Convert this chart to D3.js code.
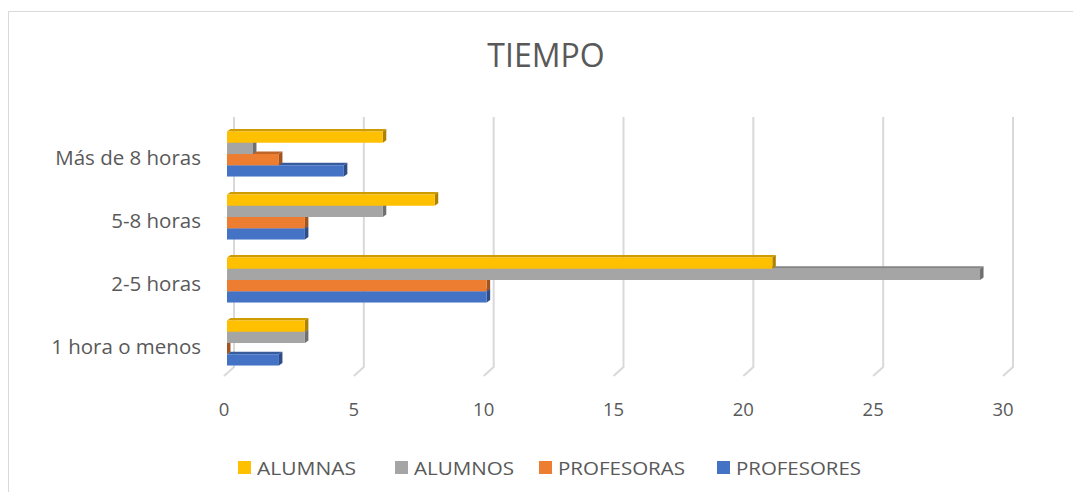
<!DOCTYPE html>
<html>
<head>
<meta charset="utf-8">
<script src="https://cdn.jsdelivr.net/npm/d3@7"></script>
<style>
  html, body { margin: 0; padding: 0; background: #fff; }
  svg { display: block; font-family: "Open Sans", sans-serif; }
</style>
</head>
<body>
<svg id="chart" width="1073" height="492"></svg>
<script>
// ---- data ----
const title = "TIEMPO";
const categories = ["Más de 8 horas", "5-8 horas", "2-5 horas", "1 hora o menos"];
const seriesNames = ["ALUMNAS", "ALUMNOS", "PROFESORAS", "PROFESORES"];
const alumnas    = [6, 8, 21, 3];
const alumnos    = [1, 6, 29, 3];
const profesoras = [2, 3, 10, 0];
const profesores = [4.5, 3, 10, 2];
const xTicks = [0, 5, 10, 15, 20, 25, 30];
const seriesColors = ["#FFC000", "#A5A5A5", "#ED7D31", "#4472C4"];

const seriesValues = [alumnas, alumnos, profesoras, profesores];

// ---- layout ----
const svg = d3.select("#chart");
const textColor = "#595959";
const gridColor = "#D9D9D9";

// back-wall plane
const x = d3.scaleLinear().domain([0, 30]).range([234, 1013]);
const y = d3.scaleBand().domain(categories).range([117, 369]).paddingInner(0.285).paddingOuter(0.1425);
const ySub = d3.scaleBand().domain(seriesNames).range([0, y.bandwidth()]);

// 3D offsets
const floorDX = -10, floorDY = 9;   // floor depth (back -> front)
const barDX = -7, barDY = 5.5;      // bars plane relative to back wall
const depthX = 3.5, depthY = -2.5;  // bar extrusion

// border
svg.append("rect").attr("x", 8.5).attr("y", 11.5).attr("width", 1080).attr("height", 500)
  .attr("fill", "none").attr("stroke", "#D9D9D9").attr("stroke-width", 1);

// title
svg.append("text").attr("x", 546).attr("y", 67).attr("text-anchor", "middle")
  .attr("font-size", 32).attr("fill", textColor).text(title);

// gridlines (back wall vertical + floor slant)
const gTop = y.range()[0], gBot = y.range()[1] - 2;
svg.append("g").selectAll("path").data(xTicks).join("path")
  .attr("d", d => `M${x(d)},${gTop}V${gBot}l${floorDX},${floorDY}`)
  .attr("fill", "none").attr("stroke", gridColor).attr("stroke-width", 2);

// x tick labels (at floor front edge)
svg.append("g").selectAll("text").data(xTicks).join("text")
  .attr("x", d => x(d) + floorDX).attr("y", 416)
  .attr("text-anchor", "middle").attr("font-size", 18.5).attr("fill", textColor)
  .text(d => d);

// category labels
svg.append("g").selectAll("text").data(categories).join("text")
  .attr("x", 201).attr("y", d => y(d) + y.bandwidth() / 2 + 16.5)
  .attr("text-anchor", "end").attr("font-size", 20.5).attr("fill", textColor)
  .text(d => d);

// bars: draw bottom series first so upper bars cover their top faces
const x0 = x(0) + barDX;
const bars = [];
categories.forEach((c, ci) => {
  seriesNames.forEach((s, si) => {
    bars.push({ cat: c, series: s, si, value: seriesValues[si][ci] });
  });
});
const barOrder = bars.slice().sort((a, b) => b.si - a.si);

const gBars = svg.append("g");
barOrder.forEach(b => {
  const col = d3.color(seriesColors[b.si]);
  const top = y(b.cat) + ySub(b.series) + barDY;
  const h = ySub.bandwidth();
  const x1 = x(b.value) + barDX;
  const w = x1 - x0;
  const g = gBars.append("g");
  // top face
  g.append("path")
    .attr("d", `M${x0},${top}L${x0 + depthX},${top + depthY}L${x1 + depthX},${top + depthY}L${x1},${top}Z`)
    .attr("fill", col.darker(0.6));
  // side face
  g.append("path")
    .attr("d", `M${x1},${top}L${x1 + depthX},${top + depthY}L${x1 + depthX},${top + h + depthY}L${x1},${top + h}Z`)
    .attr("fill", col.darker(1.1));
  // front face
  g.append("rect").attr("x", x0).attr("y", top).attr("width", Math.max(0, w)).attr("height", h)
    .attr("fill", col);
});

// legend
const legendX = [238, 395, 539, 717];
const legendW = [99, 100, 127, 125];
const lg = svg.append("g");
seriesNames.forEach((s, i) => {
  lg.append("rect").attr("x", legendX[i]).attr("y", 461).attr("width", 13).attr("height", 13)
    .attr("fill", seriesColors[i]);
  lg.append("text").attr("x", legendX[i] + 19).attr("y", 474.5)
    .attr("font-size", 18).attr("fill", textColor)
    .attr("textLength", legendW[i]).attr("lengthAdjust", "spacingAndGlyphs")
    .text(s);
});
</script>
</body>
</html>
